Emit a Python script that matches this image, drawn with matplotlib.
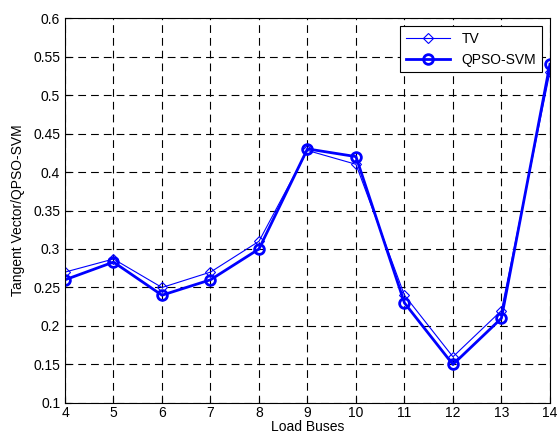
import numpy as np
import matplotlib
matplotlib.use("Agg")
import matplotlib.pyplot as plt

plt.rcParams['font.family'] = ['Liberation Sans', 'DejaVu Sans']

buses = [4, 5, 6, 7, 8, 9, 10, 11, 12, 13, 14]
tv = [0.27, 0.287, 0.25, 0.27, 0.31, 0.428, 0.41, 0.24, 0.16, 0.22, 0.53]
qpso_svm = [0.26, 0.283, 0.24, 0.26, 0.30, 0.43, 0.42, 0.23, 0.15, 0.21, 0.54]

fig = plt.figure(figsize=(5.58, 4.36), dpi=100)
ax = fig.add_axes([0.1165, 0.0757, 0.869, 0.883])

ax.plot(buses, tv, '-', color='#0000ff', linewidth=0.8, marker='D',
        markersize=5.5, markerfacecolor='none', markeredgewidth=0.8, label='TV')
ax.plot(buses, qpso_svm, '-', color='#0000ff', linewidth=2, marker='o',
        markersize=7, markerfacecolor='none', markeredgewidth=2, label='QPSO-SVM')

ax.set_xlim(4, 14)
ax.set_ylim(0.1, 0.6)
ax.set_xticks(range(4, 15))
ax.set_yticks(np.arange(0.1, 0.601, 0.05))
ax.set_yticklabels(['0.1', '0.15', '0.2', '0.25', '0.3', '0.35', '0.4',
                    '0.45', '0.5', '0.55', '0.6'])
ax.grid(True, color='black', linestyle=(0, (7, 4.5)), linewidth=0.8)
ax.tick_params(direction='in', labelsize=10, length=4)
ax.tick_params(axis='x', pad=2)
for s in ax.spines.values():
    s.set_linewidth(0.8)

ax.set_xlabel('Load Buses', fontsize=10, labelpad=0)
ax.set_ylabel('Tangent Vector/QPSO-SVM', fontsize=10, labelpad=6)

leg = ax.legend(loc='upper right', fontsize=10, fancybox=False, framealpha=1,
                edgecolor='black', borderaxespad=0.6, handlelength=3.2)
leg.get_frame().set_linewidth(0.8)

fig.savefig('out.png', dpi=100)
